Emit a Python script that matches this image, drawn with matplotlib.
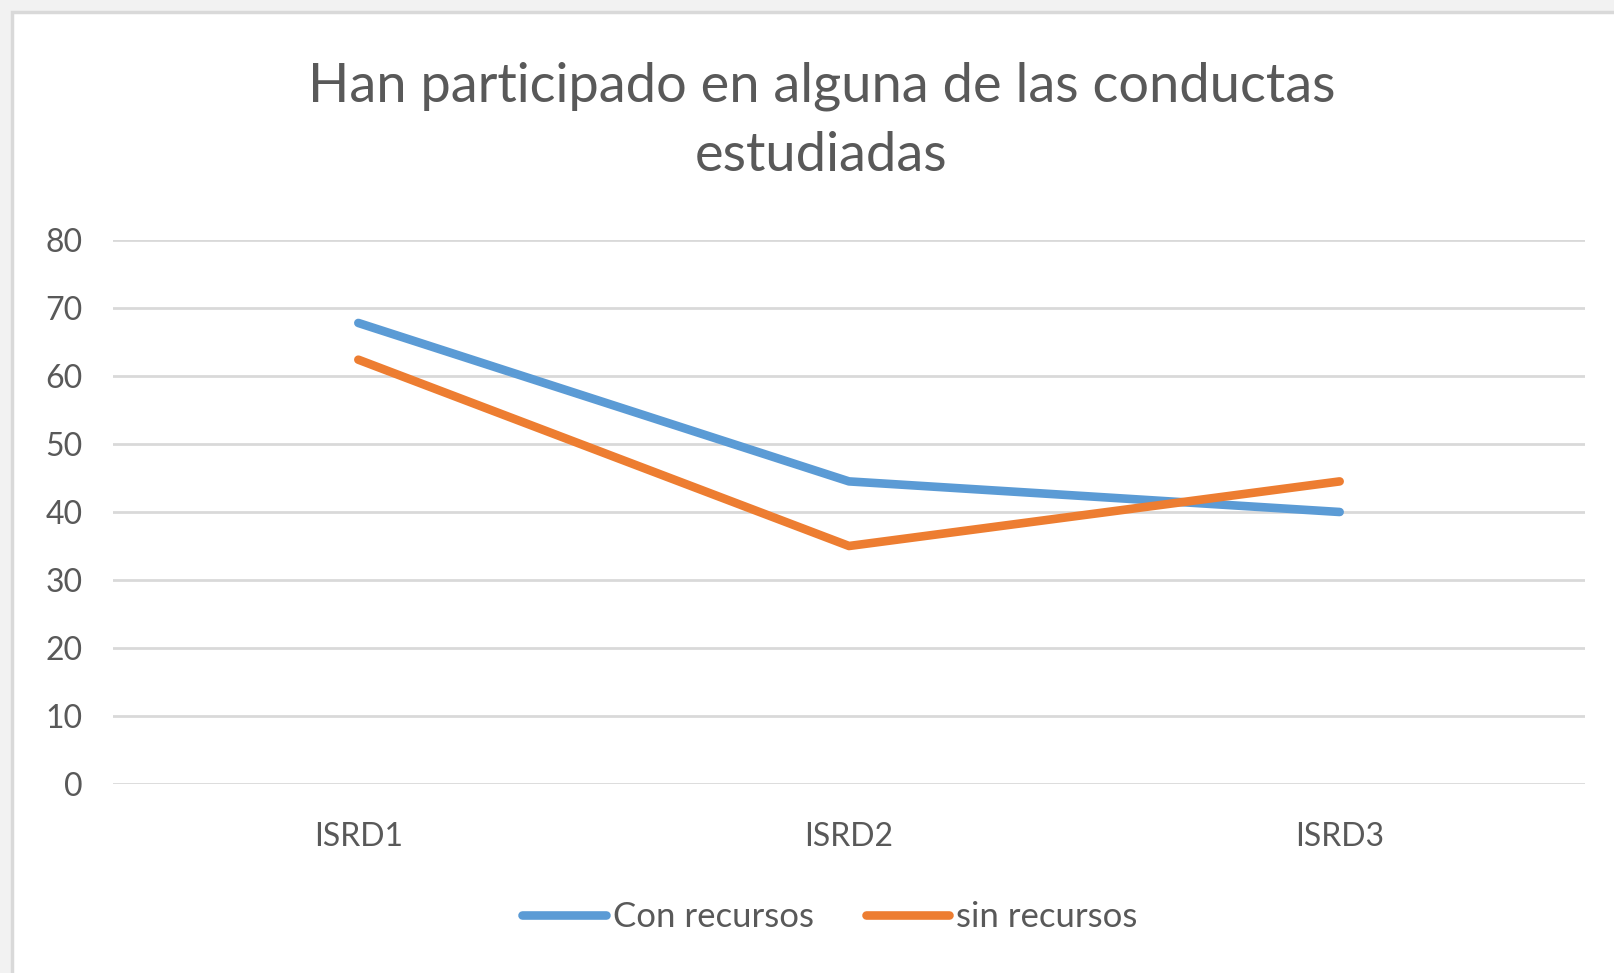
import matplotlib

matplotlib.use('Agg')
import matplotlib.pyplot as plt
from matplotlib.patches import Rectangle

# values
categories = ['ISRD1', 'ISRD2', 'ISRD3']
con_recursos = [67.8, 44.5, 40.0]
sin_recursos = [62.4, 35.0, 44.5]
y_ticks = [0, 10, 20, 30, 40, 50, 60, 70, 80]

title = 'Han participado en alguna de las conductas\nestudiadas'

blue = '#5B9BD5'
orange = '#ED7D31'
text_grey = '#595959'
grid_grey = '#D9D9D9'

plt.rcParams['font.family'] = ['Lato', 'DejaVu Sans']

fig = plt.figure(figsize=(16.14, 9.73), dpi=100)
fig.patch.set_facecolor('#F2F2F2')

# white chart area with thin grey frame
fig.patches.append(Rectangle((11.5 / 1614, -0.01), 1.02, 1 - 11.5 / 973 + 0.01,
                             transform=fig.transFigure, facecolor='white',
                             edgecolor=grid_grey, linewidth=2.5, zorder=-10))

ax = fig.add_axes([113 / 1614, (973 - 784) / 973, 1472 / 1614, 544 / 973])
ax.set_zorder(1)
ax.set_facecolor('none')
for side in ['top', 'bottom', 'left', 'right']:
    ax.spines[side].set_visible(False)

x = list(range(len(categories)))
ax.plot(x, con_recursos, '-', color=blue, lw=6.2, solid_capstyle='round',
        solid_joinstyle='round', label='Con recursos', zorder=3)
ax.plot(x, sin_recursos, '-', color=orange, lw=6.2, solid_capstyle='round',
        solid_joinstyle='round', label='sin recursos', zorder=3)

ax.set_xlim(-0.5, len(categories) - 0.5)
ax.set_ylim(0, 80)
ax.set_yticks(y_ticks)
ax.set_xticks(x)
ax.set_xticklabels(categories)
ax.yaxis.grid(True, color=grid_grey, lw=2.0)
ax.set_axisbelow(True)
ax.tick_params(axis='both', which='both', length=0, labelsize=23, labelcolor=text_grey)
ax.tick_params(axis='y', pad=22)
ax.tick_params(axis='x', pad=27)

fig.text(0.509, 1 - 121 / 973, title, ha='center', va='center', fontsize=39,
         color=text_grey, linespacing=1.5, multialignment='center')

leg = fig.legend(loc='center', bbox_to_anchor=(830 / 1614, 56 / 973), ncol=2,
                 frameon=False, fontsize=25, handlelength=2.4, handletextpad=0.2,
                 columnspacing=1.5, labelcolor=text_grey)

plt.savefig('out.png', dpi=100, facecolor=fig.get_facecolor())
